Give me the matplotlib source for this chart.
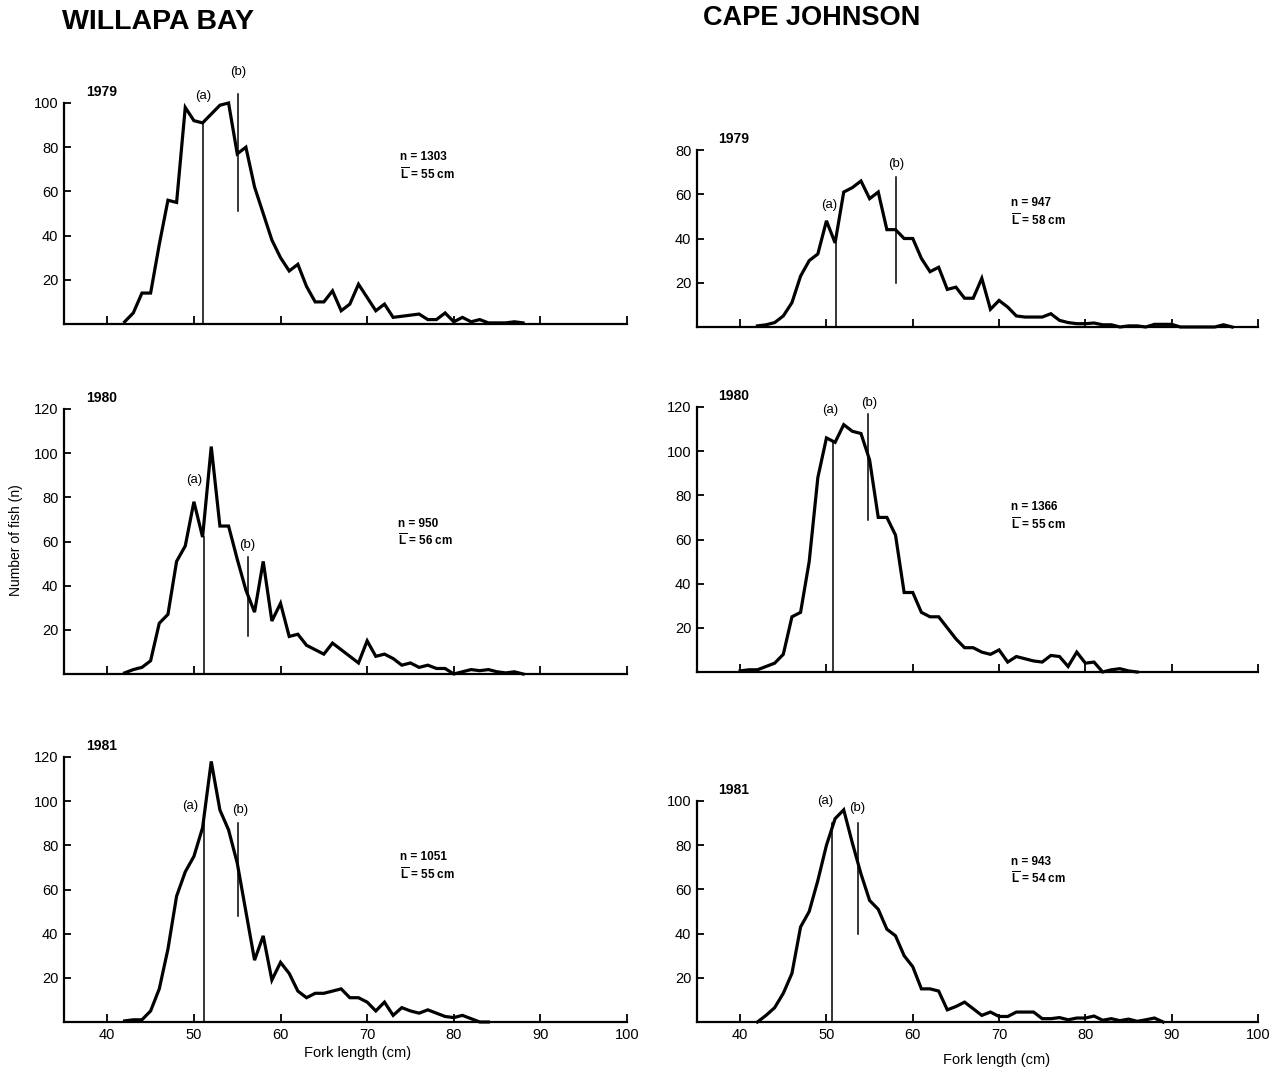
import matplotlib.pyplot as plt
import numpy as np

plt.rcParams['font.family'] = ['Liberation Sans', 'DejaVu Sans']
plt.rcParams['mathtext.fontset'] = 'custom'
plt.rcParams['mathtext.rm'] = 'Liberation Sans'
plt.rcParams['mathtext.bf'] = 'Liberation Sans:bold'

# fork length frequency, 1 cm bins
wb79_len = np.arange(42, 89)
wb79_n = [1, 5, 14, 14, 36, 56, 55, 98, 92, 91, 95, 99, 100, 77, 80, 62, 50, 38, 30, 24,
          27, 17, 10, 10, 15, 6, 9, 18, 12, 6, 9, 3, 3.5, 4, 4.5, 2, 2, 5, 1, 3,
          1, 2, 0.5, 0.5, 0.5, 1, 0.5]

wb80_len = np.arange(42, 89)
wb80_n = [0.5, 2, 3, 6, 23, 27, 51, 58, 78, 62, 103, 67, 67, 52, 38, 28, 51, 24, 32, 17,
          18, 13, 11, 9, 14, 11, 8, 5, 15, 8, 9, 7, 4, 5, 3, 4, 2.5, 2.5, 0, 1,
          2, 1.5, 2, 1, 0.5, 1, 0]

wb81_len = np.arange(42, 85)
wb81_n = [0.5, 1, 1, 5, 15, 33, 57, 68, 75, 88, 118, 96, 87, 72, 50, 28, 39, 19, 27, 22,
          14, 11, 13, 13, 14, 15, 11, 11, 9, 5, 9, 3, 6.5, 5, 4, 5.5, 4, 2.5, 2, 3,
          1.5, 0, 0]

cj79_len = np.arange(42, 98)
cj79_n = [0.5, 1, 2, 5, 11, 23, 30, 33, 48, 38, 61, 63, 66, 58, 61, 44, 44, 40, 40, 31,
          25, 27, 17, 18, 13, 13, 22, 8, 12, 9, 5, 4.5, 4.5, 4.5, 6, 3, 2, 1.5, 1.5, 1.8,
          1, 1, 0, 0.5, 0.5, 0, 1.2, 1.2, 1.2, 0, 0, 0, 0, 0, 1, 0]

cj80_len = np.arange(40, 87)
cj80_n = [0.5, 1, 1, 2.5, 4, 8, 25, 27, 50, 88, 106, 104, 112, 109, 108, 96, 70, 70, 62, 36,
          36, 27, 25, 25, 20, 15, 11, 11, 9, 8, 10, 4.5, 7, 6, 5, 4.5, 7.5, 7, 2.5, 9,
          4, 4.5, 0, 1, 1.5, 0.5, 0]

cj81_len = np.arange(42, 90)
cj81_n = [0, 3, 6.5, 13, 22, 43, 50, 64, 80, 92, 96, 81, 67, 55, 51, 42, 39, 30, 25, 15,
          15, 14, 5.5, 7, 9, 6, 3, 4.5, 2.5, 2.5, 4.5, 4.5, 4.5, 1.5, 1.5, 2, 1, 1.8, 1.8, 2.7,
          0.8, 1.5, 0.6, 1.3, 0.3, 1, 1.8, 0]

# sample size and mean length
sample_n = {'wb79': 1303, 'wb80': 950, 'wb81': 1051, 'cj79': 947, 'cj80': 1366, 'cj81': 943}
mean_len = {'wb79': 55, 'wb80': 56, 'wb81': 55, 'cj79': 58, 'cj80': 55, 'cj81': 54}

# (a) line: x, top ; (b) line: x, bottom, top
line_a = {'wb79': (51.1, 91), 'wb80': (51.2, 62), 'wb81': (51.2, 90),
          'cj79': (51.1, 38), 'cj80': (50.7, 104), 'cj81': (50.6, 90)}
line_b = {'wb79': (55.1, 51, 104), 'wb80': (56.2, 17, 53), 'wb81': (55.1, 48, 90),
          'cj79': (58.1, 20, 68), 'cj80': (54.8, 69, 117), 'cj81': (53.7, 40, 90)}
lab_a = {'wb79': (51.1, 103), 'wb80': (50.0, 88), 'wb81': (49.6, 98),
         'cj79': (50.3, 55), 'cj80': (50.4, 118.5), 'cj81': (49.9, 100)}
lab_b = {'wb79': (55.1, 114), 'wb80': (56.2, 58.5), 'wb81': (55.3, 96),
         'cj79': (58.1, 73.5), 'cj80': (55.0, 122), 'cj81': (53.6, 97)}
stat_pos = {'wb79': (73.8, 75.5), 'wb80': (73.6, 68), 'wb81': (73.8, 74.5),
            'cj79': (71.4, 56), 'cj80': (71.4, 74.5), 'cj81': (71.4, 72.5)}

W, H = 1273, 1073
fig = plt.figure(figsize=(W / 100, H / 100), dpi=100)


def px_axes(x0, x1, y_base, y_top):
    return fig.add_axes([x0 / W, 1 - y_base / H, (x1 - x0) / W, (y_base - y_top) / H])


def draw_panel(ax, key, lengths, counts, ymax, year, bottom_row):
    ax.plot(lengths, counts, color='black', lw=2.3, clip_on=False, solid_joinstyle='miter')
    ax.set_xlim(35, 100)
    ax.set_ylim(0, ymax)
    for s in ['top', 'right']:
        ax.spines[s].set_visible(False)
    ax.spines['left'].set_linewidth(1.6)
    ax.spines['bottom'].set_linewidth(1.6)
    ax.set_xticks(np.arange(40, 101, 10))
    ax.set_yticks(np.arange(20, ymax + 1, 20))
    ax.tick_params(axis='x', direction='in', length=6, width=1.3, labelsize=10.5, pad=4)
    ax.tick_params(axis='y', direction='in', length=5, width=1.3, labelsize=10.5, pad=4)
    if not bottom_row:
        ax.set_xticklabels([])

    ax_x, ax_top = line_a[key]
    ax.plot([ax_x, ax_x], [0, ax_top], color='black', lw=1.1, clip_on=False)
    bx, blo, bhi = line_b[key]
    ax.plot([bx, bx], [blo, bhi], color='black', lw=1.1, clip_on=False)
    ax.text(*lab_a[key], '(a)', ha='center', va='center', fontsize=9.5)
    ax.text(*lab_b[key], '(b)', ha='center', va='center', fontsize=9.5)

    sx, sy = stat_pos[key]
    ax.text(sx, sy, 'n = {}'.format(sample_n[key]), fontsize=8.5, fontweight='bold',
            va='center', ha='left')
    ax.text(sx, sy - 7.5, r'$\overline{\mathbf{L}}$' + ' = {} cm'.format(mean_len[key]),
            fontsize=8.5, fontweight='bold', va='center', ha='left')
    ax.text(37.5, ymax + 5, year, fontsize=10, fontweight='bold', va='center', ha='left')


ax = px_axes(64, 627, 324, 103)
draw_panel(ax, 'wb79', wb79_len, wb79_n, 100, '1979', False)
ax = px_axes(64, 627, 674, 409)
draw_panel(ax, 'wb80', wb80_len, wb80_n, 120, '1980', False)
ax = px_axes(64, 627, 1022, 757)
draw_panel(ax, 'wb81', wb81_len, wb81_n, 120, '1981', True)

ax = px_axes(697, 1258, 327, 150)
draw_panel(ax, 'cj79', cj79_len, cj79_n, 80, '1979', False)
ax = px_axes(697, 1258, 672, 407)
draw_panel(ax, 'cj80', cj80_len, cj80_n, 120, '1980', False)
ax = px_axes(697, 1258, 1022, 801)
draw_panel(ax, 'cj81', cj81_len, cj81_n, 100, '1981', True)

fig.text(62 / W, 1 - 22 / H, 'WILLAPA BAY', fontsize=20.5, fontweight='bold', va='center', ha='left')
fig.text(703 / W, 1 - 18 / H, 'CAPE JOHNSON', fontsize=19.5, fontweight='bold', va='center', ha='left')
fig.text(16 / W, 1 - 540 / H, 'Number of fish (n)', rotation=90, fontsize=10, va='center', ha='center')
fig.text(358 / W, 1 - 1053 / H, 'Fork length (cm)', fontsize=10.5, va='center', ha='center')
fig.text(997 / W, 1 - 1060 / H, 'Fork length (cm)', fontsize=10.5, va='center', ha='center')

plt.savefig('out.png', dpi=100)
